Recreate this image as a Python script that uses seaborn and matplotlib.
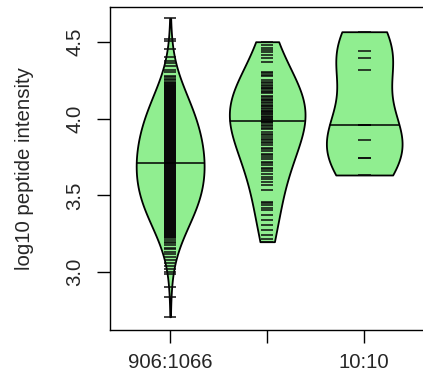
import numpy as np
import pandas as pd
import matplotlib
matplotlib.use("Agg")
import matplotlib.pyplot as plt
import seaborn as sns

# ---------------- data ----------------
group_keys = ["g1", "g2", "g3"]
tick_labels = ["906:1066", "", "10:10"]
y_label = "log10 peptide intensity"
y_ticks = [3.0, 3.5, 4.0, 4.5]

# group 1: dense core given as counts per 0.01 bin starting at 3.23, plus sparse tails
g1_core_start = 3.23
g1_core_step = 0.01
g1_core_counts = [4, 4, 5, 5, 5, 5, 5,
                  5, 5, 6, 6, 6, 6, 7, 7, 7, 7,
                  8, 8, 9, 9, 9, 9, 9, 9, 10, 10,
                  10, 10, 10, 10, 10, 10, 10, 10, 10, 10,
                  10, 10, 10, 10, 10, 10, 10, 10, 10, 10,
                  10, 10, 10, 10, 10, 10, 10, 10, 10, 10,
                  10, 10, 10, 9, 9, 9, 9, 9, 9, 9,
                  9, 9, 9, 9, 9, 8, 8, 8, 8, 8,
                  8, 8, 8, 7, 7, 7, 7, 7, 7, 6,
                  6, 6, 6, 6, 5, 5, 5, 5, 5, 4,
                  4, 4, 3, 3]
g1_upper_tail = [4.24, 4.25, 4.26, 4.27, 4.28, 4.30, 4.316, 4.34, 4.36, 4.375,
                 4.40, 4.45, 4.505, 4.52, 4.652]
g1_lower_tail = [3.22, 3.21, 3.20, 3.19, 3.18, 3.16, 3.15, 3.13, 3.12, 3.10,
                 3.08, 3.06, 3.04, 3.02, 3.00, 2.99, 2.902, 2.837, 2.711]

g2_values = [4.50, 4.478, 4.457, 4.446, 4.431, 4.413, 4.392, 4.37,
             4.305, 4.295, 4.283, 4.28,
             4.25, 4.24, 4.23, 4.22, 4.21, 4.20, 4.20, 4.19, 4.18, 4.17, 4.165,
             4.15, 4.14, 4.13, 4.12, 4.12, 4.11, 4.10, 4.09, 4.08, 4.08, 4.07,
             4.06, 4.05, 4.05, 4.045, 4.04, 4.03, 4.03, 4.02, 4.01, 4.01, 4.00,
             3.995, 3.99, 3.98, 3.975, 3.97, 3.96, 3.95, 3.94, 3.93,
             3.915, 3.90, 3.89, 3.88, 3.87, 3.86, 3.85, 3.84, 3.83, 3.81,
             3.80, 3.79, 3.77, 3.76, 3.75, 3.74, 3.72, 3.71, 3.70, 3.68,
             3.67, 3.66, 3.64, 3.62, 3.61, 3.59, 3.57,
             3.535, 3.46, 3.45, 3.44, 3.42, 3.405, 3.37, 3.34, 3.31,
             3.275, 3.24, 3.216, 3.199]

g3_values = [3.633, 3.741, 3.741, 3.86, 3.958, 3.958, 4.316, 4.396, 4.44, 4.565]

# ---------------- build table ----------------
g1_bins = np.round(g1_core_start + g1_core_step * np.arange(len(g1_core_counts)), 3)
g1_values = np.concatenate([np.repeat(g1_bins, g1_core_counts), g1_upper_tail, g1_lower_tail])
group_values = {"g1": g1_values, "g2": np.array(g2_values), "g3": np.array(g3_values)}
df = pd.concat([pd.DataFrame({"group": k, "value": v}) for k, v in group_values.items()],
               ignore_index=True)

# ---------------- style ----------------
sns.set_style("ticks")
plt.rcParams["font.family"] = ["Liberation Sans", "DejaVu Sans"]
FS = 14.7

fig = plt.figure(figsize=(4.23, 3.81), dpi=100)
ax = fig.add_axes([0.26, 0.134, 0.7433, 0.8477])

widths = {"g1": 0.70, "g2": 0.78, "g3": 0.78}
bw_adj = {"g1": 2.4, "g2": 1.5, "g3": 1.0}

for i, k in enumerate(group_keys):
    sub = df[df["group"] == k]
    n_before = len(ax.collections)
    sns.violinplot(data=sub, x="group", y="value", order=group_keys, ax=ax,
                   color="#90EE90", saturation=1, linecolor="black", linewidth=1.3,
                   inner=None, cut=0, density_norm="width", width=widths[k],
                   bw_adjust=bw_adj[k])
    body = ax.collections[n_before]
    body.set_zorder(2)
    vals = sub["value"].to_numpy()
    # bean lines (one short line per observation)
    ax.hlines(vals, i - 0.065, i + 0.065, colors="#0a0a0a", linewidth=1.2,
              alpha=0.9, zorder=3)
    # median line spanning bean width (clipped to the bean)
    med = np.median(vals)
    ml = ax.hlines([med], i - 0.5, i + 0.5, colors="black", linewidth=1.1, zorder=4)
    ml.set_clip_path(body.get_paths()[0], body.get_transform())

ax.set_xlim(-0.62, 2.62)
ax.set_ylim(2.625, 4.726)
ax.set_xticks(range(len(group_keys)))
ax.set_xticklabels(tick_labels)
ax.set_yticks(y_ticks)
ax.set_yticklabels([f"{t:.1f}" for t in y_ticks])
ax.set_xlabel("")
ax.set_ylabel(y_label, fontsize=FS)
ax.yaxis.set_label_coords(-0.242, 0.5)

ax.tick_params(axis="both", length=9.4, width=1.0, direction="out",
               labelsize=FS, color="black")
ax.tick_params(axis="x", pad=7.2)
ax.tick_params(axis="y", pad=9.0, labelrotation=90)
for lab in ax.get_yticklabels():
    lab.set_va("center")
for s in ax.spines.values():
    s.set_visible(True)
    s.set_color("black")
    s.set_linewidth(1.0)

fig.savefig("out.png", dpi=100)
